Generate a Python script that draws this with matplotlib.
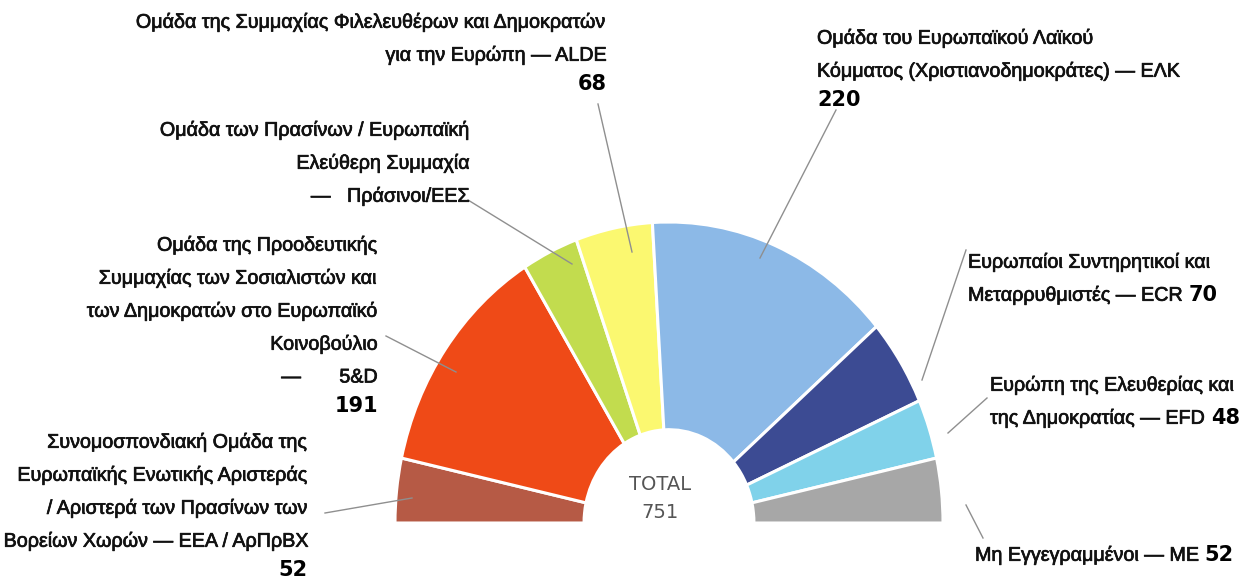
import matplotlib
matplotlib.use("Agg")
import matplotlib.pyplot as plt
import matplotlib.patheffects as pe

# ---- data ----
groups = ["GUE/NGL", "S&D", "Greens/EFA", "ALDE", "EPP", "ECR", "EFD", "NI"]
seats = [52, 191, 50, 68, 220, 70, 48, 52]
colors = ["#b65a45", "#ef4a17", "#c2dc4e", "#fbf870", "#8cb9e7", "#3c4b93", "#80d2ea", "#a7a7a7"]
total = sum(seats)

label_lines = [
    ["Συνομοσπονδιακή Ομάδα της", "Ευρωπαϊκής Ενωτικής Αριστεράς",
     "/ Αριστερά των Πρασίνων των", "Βορείων Χωρών — ΕΕΑ / ΑρΠρΒΧ"],
    ["Ομάδα της Προοδευτικής", "Συμμαχίας των Σοσιαλιστών και",
     "των Δημοκρατών στο Ευρωπαϊκό", "Κοινοβούλιο", "—       5&D"],
    ["Ομάδα των Πρασίνων / Ευρωπαϊκή", "Ελεύθερη Συμμαχία", "—   Πράσινοι/ΕΕΣ"],
    ["Ομάδα της Συμμαχίας Φιλελευθέρων και Δημοκρατών", "για την Ευρώπη — ALDE"],
    ["Ομάδα του Ευρωπαϊκού Λαϊκού", "Κόμματος (Χριστιανοδημοκράτες) — ΕΛΚ"],
    ["Ευρωπαίοι Συντηρητικοί και", "Μεταρρυθμιστές — ECR"],
    ["Ευρώπη της Ελευθερίας και", "της Δημοκρατίας — EFD"],
    ["Μη Εγγεγραμμένοι — ΜΕ"],
]

W, H = 1244, 580
fig = plt.figure(figsize=(W / 100, H / 100), dpi=100)

# ---- half donut ----
ax = fig.add_axes([395 / W, 57 / H, 548 / W, 301 / H])
wedges, _ = ax.pie(seats + [total], colors=colors + ["white"], startangle=180,
                   counterclock=False, radius=1,
                   wedgeprops=dict(width=0.69, edgecolor="white", linewidth=2.2))
wedges[-1].set_visible(False)
ax.set_aspect("auto")
ax.set_xlim(-1, 1)
ax.set_ylim(0, 1)
ax.axis("off")

# ---- overlay for labels (pixel coordinates) ----
tx = fig.add_axes([0, 0, 1, 1])
tx.set_xlim(0, W)
tx.set_ylim(H, 0)
tx.axis("off")

FONT = "Liberation Sans"
FS = 14.2
NFS = 15
LS = 33
lc = "#8f8f8f"
tc = "#111111"
thick = [pe.withStroke(linewidth=0.5, foreground=tc)]


def block(lines, x, y0, ha, num=None, inline=False):
    y = y0
    t = None
    for s in lines:
        t = tx.text(x, y, s, ha=ha, va="center", fontsize=FS, family=FONT, color=tc,
                    path_effects=thick)
        y += LS
    if num is None:
        return
    if inline:
        tx.annotate(str(num), xy=(1, 0.5), xycoords=t, xytext=(5, 0), textcoords="offset pixels",
                    ha="left", va="center", fontsize=NFS, fontweight="bold",
                    family="DejaVu Sans", color="#000000")
    else:
        tx.text(x, y - 4, str(num), ha=ha, va="center", fontsize=NFS, fontweight="bold",
                family="DejaVu Sans", color="#000000")


# GUE/NGL
block(label_lines[0], 308, 442, "right", seats[0])
tx.plot([325, 412], [513, 498], color=lc, lw=1)
# S&D
block(label_lines[1], 378, 245, "right", seats[1])
tx.plot([386, 456], [336, 372], color=lc, lw=1)
# Greens
block(label_lines[2], 470, 130, "right")
tx.plot([468, 572], [200, 264], color=lc, lw=1)
# ALDE
block(label_lines[3], 607, 22, "right", seats[3])
tx.plot([598, 632], [104, 252], color=lc, lw=1)
# EPP
block(label_lines[4], 817, 38, "left", seats[4])
tx.plot([836, 760], [110, 258], color=lc, lw=1)
# ECR
block(label_lines[5], 968, 262, "left", seats[5], inline=True)
tx.plot([966, 922], [250, 380], color=lc, lw=1)
# EFD
block(label_lines[6], 990, 385, "left", seats[6], inline=True)
tx.plot([987, 948], [398, 433], color=lc, lw=1)
# NI
block(label_lines[7], 975, 555, "left", seats[7], inline=True)
tx.plot([983, 966], [538, 505], color=lc, lw=1)

# centre total
tx.text(660, 484, "TOTAL", ha="center", va="center", fontsize=14, family="DejaVu Sans",
        color="#555555")
tx.text(660, 512, str(total), ha="center", va="center", fontsize=14, family="DejaVu Sans",
        color="#555555")

fig.savefig("out.png", dpi=100)
